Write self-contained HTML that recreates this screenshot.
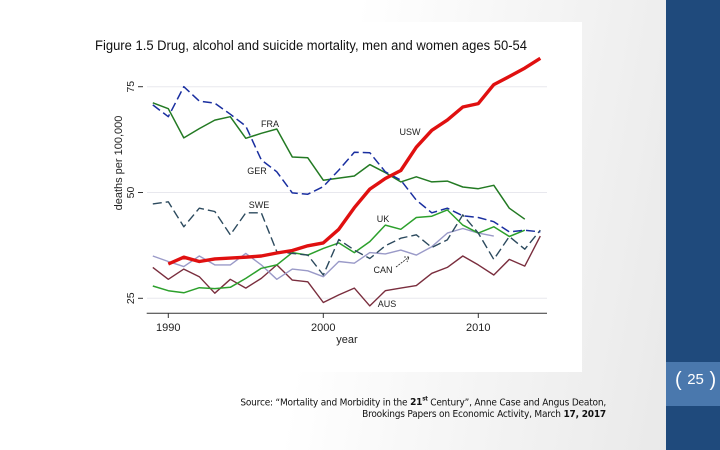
<!DOCTYPE html>
<html><head><meta charset="utf-8"><style>
body{margin:0;width:720px;height:450px;overflow:hidden;font-family:"Liberation Sans",sans-serif;background:linear-gradient(100deg,#ffffff 0%,#ffffff 45%,#e6e6e6 100%);position:relative}
#chart{position:absolute;left:100px;top:22px;width:482px;height:350px;background:#fff}
#svg{overflow:visible}
.src{position:absolute;font-size:10px;color:#111;text-align:right;left:180px;width:426px;font-family:"DejaVu Sans Condensed","Liberation Sans Narrow","Liberation Sans",sans-serif;letter-spacing:-0.2px}
</style></head><body>
<div id="chart">
<svg id="svg" width="482" height="350" viewBox="100 22 482 350"></svg>
</div>
<div class="src" style="top:396px">Source: “Mortality and Morbidity in the <b>21<sup style="font-size:6px">st</sup></b> Century”, Anne Case and Angus Deaton,</div>
<div class="src" style="top:409px">Brookings Papers on Economic Activity, March <b>17, 2017</b></div>
<div style="position:absolute;left:666px;top:0;width:54px;height:450px;background:#1f4a7c"></div>
<div style="position:absolute;left:666px;top:362px;width:54px;height:44px;background:#4a78ad"></div>
<div style="position:absolute;left:675px;top:369px;font-size:20px;color:#fff;font-weight:300">( <span style="font-size:15px;vertical-align:2px">25</span> )</div>
<script>
const years=[1989,1990,1991,1992,1993,1994,1995,1996,1997,1998,1999,2000,2001,2002,2003,2004,2005,2006,2007,2008,2009,2010,2011,2012,2013,2014];
const usw=[null,33.1,34.7,33.7,34.3,34.5,34.7,35.0,35.7,36.3,37.4,38.1,41.3,46.4,50.8,53.3,55.2,60.7,64.7,67.1,70.2,71.0,75.5,77.4,79.4,81.7];
const fra=[71.2,69.8,62.9,65.1,67.1,67.9,62.8,64.0,65.0,58.4,58.2,52.9,53.4,53.9,56.6,54.7,52.5,53.7,52.5,52.7,51.3,50.9,51.7,46.3,43.7,null];
const ger=[70.7,67.9,75.0,71.6,71.1,68.5,65.7,57.7,54.9,49.9,49.6,51.4,55.3,59.5,59.4,54.9,52.9,48.2,45.2,46.3,44.5,44.1,43.1,40.7,41.1,40.7];
const swe=[47.3,47.8,41.9,46.3,45.5,40.0,45.2,45.2,36.0,35.6,35.2,30.5,38.9,36.4,34.4,37.4,39.2,40.0,37.0,38.8,44.7,40.4,34.2,39.6,36.6,41.1];
const uk=[27.9,26.8,26.3,27.5,27.3,27.6,29.7,32.1,32.9,35.8,35.2,36.8,38.1,35.8,38.4,42.3,41.3,44.1,44.4,45.9,42.3,40.4,41.9,39.6,41.1,null];
const can=[35.0,33.7,32.5,35.0,32.9,32.9,35.6,32.9,29.5,31.9,31.5,30.1,33.7,33.3,35.8,35.5,36.4,35.2,37.2,40.4,41.5,40.4,39.7,null,null,null];
const aus=[32.3,29.5,31.9,30.1,26.2,29.5,27.4,29.7,32.9,29.3,28.9,24.0,25.8,27.4,23.2,26.8,27.4,28.0,30.9,32.3,35.0,32.9,30.5,34.2,32.6,39.7];
const yTicks=[25,50,75];
const xTicks=[1990,2000,2010];
const X=y=>168.3+(y-1990)*15.5;
const Y=v=>298.3-(v-25)*4.232;
const svg=document.getElementById('svg');
const NS='http://www.w3.org/2000/svg';
function mk(t,a,txt){const e=document.createElementNS(NS,t);for(const k in a)e.setAttribute(k,a[k]);if(txt!=null)e.textContent=txt;svg.appendChild(e);return e;}
let t=mk('text',{x:95,y:50,'font-size':'13.5',fill:'#111',textLength:432,lengthAdjust:'spacingAndGlyphs'},'Figure 1.5  Drug, alcohol and suicide mortality, men and women ages 50-54');


yTicks.forEach(v=>{
 let g=mk('line',{x1:147,x2:547,y1:Y(v),y2:Y(v),stroke:'#e8e8ee','stroke-width':1});
 
 
 let tk=mk('line',{x1:138,x2:143,y1:Y(v),y2:Y(v),stroke:'#333'});
 
 
 let l=mk('text',{x:0,y:0,'font-size':'10.5',fill:'#222','text-anchor':'middle',transform:`translate(134,${Y(v)}) rotate(-90)`},String(v));
 
 
});
let yt=mk('text',{x:0,y:0,'font-size':'11','fill':'#222','text-anchor':'middle',transform:'translate(122,163) rotate(-90)'},'deaths per 100,000');


let ax=mk('line',{x1:146.7,x2:547,y1:313.3,y2:313.3,stroke:'#333'});


xTicks.forEach(v=>{
 let tk=mk('line',{x1:X(v),x2:X(v),y1:313.3,y2:318,stroke:'#333'});
 
 
 let l=mk('text',{x:X(v),y:331,'font-size':'11',fill:'#222','text-anchor':'middle'},String(v));
 
 
});
let xt=mk('text',{x:347,y:343,'font-size':'11',fill:'#222','text-anchor':'middle'},'year');


function series(name,vals,color,w,dash){
 let d='';let pen=false;
 vals.forEach((v,i)=>{if(v==null){pen=false;return;}d+=(pen?'L':'M')+X(years[i]).toFixed(1)+','+Y(v).toFixed(1);pen=true;});
 let p=mk('path',{d:d,fill:'none',stroke:color,'stroke-width':w,'stroke-linejoin':'round'});
 if(dash)p.setAttribute('stroke-dasharray',dash);
 
 
}
series('aus',aus,'#7a2e3e',1.4);
series('can',can,'#9a9ac8',1.4);
series('uk',uk,'#2ca02c',1.5);
series('swe',swe,'#2c4a5e',1.4,'9,4');
series('fra',fra,'#237a23',1.5);
series('ger',ger,'#1a2fa0',1.5,'9,4');
series('usw',usw,'#e01010',3.4);
[['FRA',270,127],['USW',410,135],['GER',257,174],['SWE',259,208],['UK',383,222],['CAN',383,273],['AUS',387,307]].forEach(a=>{
 let l=mk('text',{x:a[1],y:a[2],'font-size':'9',fill:'#222','text-anchor':'middle'},a[0]);
 
 
});
let ar=mk('path',{d:'M396,267 L409,257 M404,257 L409,257 L407,262',fill:'none',stroke:'#222','stroke-width':0.8,'stroke-dasharray':'2,1'});


</script>
</body></html>
